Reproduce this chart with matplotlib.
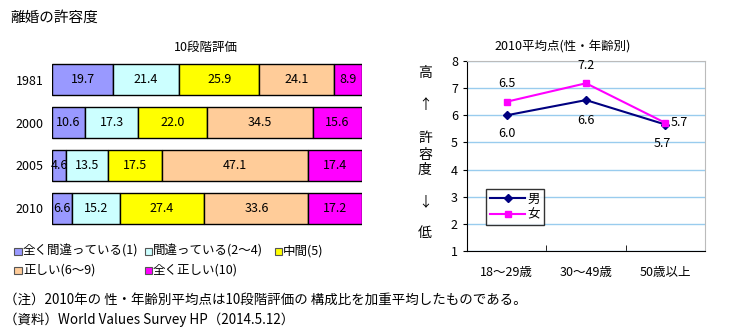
import matplotlib
matplotlib.use("Agg")
import matplotlib.pyplot as plt
from matplotlib.patches import Rectangle

plt.rcParams['font.family'] = ['Noto Sans CJK JP', 'DejaVu Sans']

# --- data ---
years = ["1981", "2000", "2005", "2010"]
cat_names = ["全く間違っている(1)", "間違っている(2～4)", "中間(5)", "正しい(6～9)", "全く正しい(10)"]
wrong_all = [19.7, 10.6, 4.6, 6.6]
wrong = [21.4, 17.3, 13.5, 15.2]
middle = [25.9, 22.0, 17.5, 27.4]
right_ = [24.1, 34.5, 47.1, 33.6]
right_all = [8.9, 15.6, 17.4, 17.2]
cat_colors = ["#9999FF", "#CCFFFF", "#FFFF00", "#FFCC99", "#FF00FF"]

age_groups = ["18～29歳", "30～49歳", "50歳以上"]
men = [6.0, 6.56, 5.66]
women = [6.5, 7.18, 5.72]

W, H = 735, 335
fig = plt.figure(figsize=(W / 100, H / 100), dpi=100)

def fx(px):
    return px / W

def fy(py):
    return 1 - py / H

fig.text(fx(10), fy(18), "離婚の許容度", fontsize=10.5, va="center", ha="left")

# --- left: stacked bars ---
ax = fig.add_axes([fx(52), fy(229.5), fx(310), (229.5 - 58.5) / H])
series = [wrong_all, wrong, middle, right_, right_all]
left = [0.0] * len(years)
for vals, col in zip(series, cat_colors):
    ax.barh(range(len(years)), vals, left=left, height=0.73, color=col,
            edgecolor="black", linewidth=1)
    for i, v in enumerate(vals):
        ax.text(left[i] + v / 2, i, f"{v:.1f}", ha="center", va="center", fontsize=9)
    left = [l + v for l, v in zip(left, vals)]
ax.set_xlim(0, max(left))
ax.set_ylim(len(years) - 0.5, -0.5)
ax.set_yticks(range(len(years)))
ax.set_yticklabels(years, fontsize=9)
ax.tick_params(axis="y", length=0, pad=6)
ax.set_xticks([])
for s in ax.spines.values():
    s.set_visible(False)
fig.text(fx(206), fy(47), "10段階評価", fontsize=9, ha="center", va="center")

# legend (two rows, manual layout)
leg_pos = [(18, 251), (148, 251), (278, 251), (18, 270), (148, 270)]
for name, col, (lx, ly) in zip(cat_names, cat_colors, leg_pos):
    fig.patches.append(Rectangle((fx(lx - 3.5), fy(ly + 3.5)), fx(7), 7 / H,
                                 transform=fig.transFigure, facecolor=col,
                                 edgecolor="#555555", linewidth=0.8))
    fig.text(fx(lx + 5), fy(ly), name, fontsize=9, ha="left", va="center")

# notes
fig.text(fx(4), fy(300), "（注）2010年の 性・年齢別平均点は10段階評価の 構成比を加重平均したものである。",
         fontsize=9.7, ha="left", va="center")
fig.text(fx(4), fy(320), "（資料）World Values Survey HP（2014.5.12）",
         fontsize=9.7, ha="left", va="center")

# --- right: line chart ---
ax2 = fig.add_axes([fx(467), fy(251), fx(238), 190 / H])
x = list(range(len(age_groups)))
ax2.plot(x, men, color="#000080", marker="D", markersize=4, linewidth=1.5, label="男")
ax2.plot(x, women, color="#FF00FF", marker="s", markersize=5, linewidth=1.5, label="女")
ax2.set_xlim(-0.5, len(age_groups) - 0.5)
ax2.set_ylim(1, 8)
ax2.set_yticks(range(1, 9))
ax2.tick_params(axis="y", labelsize=9, length=3)
ax2.set_xticks(x)
ax2.set_xticklabels(age_groups, fontsize=9)
ax2.tick_params(axis="x", length=0, pad=11)
ax2.set_xticks([0.5, 1.5], minor=True)
ax2.tick_params(axis="x", which="minor", direction="in", length=4)
ax2.yaxis.grid(True, color="#99CCEE", linewidth=1)
ax2.set_axisbelow(True)
ax2.spines["top"].set_color("#BBBBBB")
ax2.spines["right"].set_color("#BBBBBB")

# data labels
men_off = [(0, -18), (0, -20), (-3, -19)]
for i, v in enumerate(men):
    ax2.annotate(f"{v:.1f}", (i, v), xytext=men_off[i], textcoords="offset pixels",
                 ha="center", va="center", fontsize=9)
women_off = [(0, 18), (0, 18), (5, 0)]
for i, v in enumerate(women):
    ax2.annotate(f"{v:.1f}", (i, v), xytext=women_off[i], textcoords="offset pixels",
                 ha="center" if i < 2 else "left", va="center", fontsize=9)

leg = ax2.legend(loc="upper left", bbox_to_anchor=(0.055, 0.36), fontsize=9,
                 frameon=True, fancybox=False, edgecolor="black",
                 handlelength=2.8, borderpad=0.3, labelspacing=0.25,
                 handletextpad=0.2)
leg.get_frame().set_linewidth(1)

fig.text(fx(563), fy(47), "2010平均点(性・年齢別)", fontsize=9, ha="center", va="center")
for ch, py in zip(["高", "↑", "許", "容", "度", "↓", "低"], [73, 105, 138, 155, 170, 202, 233]):
    fig.text(fx(425), fy(py), ch, fontsize=10, ha="center", va="center")

fig.savefig("out.png", dpi=100)
